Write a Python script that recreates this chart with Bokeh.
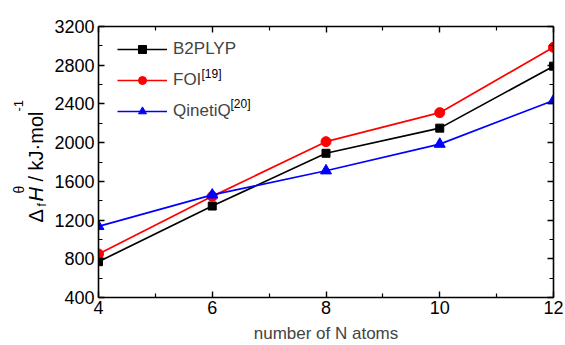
import math
from bokeh.plotting import figure
from bokeh.layouts import row
from bokeh.models import (Range1d, LinearAxis, FixedTicker, Legend, LegendItem, Label)
from bokeh.embed import file_html
from bokeh.resources import INLINE

# ---- data ----
n_atoms = [4, 6, 8, 10, 12]
b2plyp = [770, 1345, 1890, 2150, 2790]
foi = [850, 1445, 2010, 2310, 2985]
qinetiq = [1135, 1460, 1710, 1985, 2435]

x_major = [4, 6, 8, 10, 12]
x_minor = [5, 7, 9, 11]
y_major = [400, 800, 1200, 1600, 2000, 2400, 2800, 3200]
y_minor = [600, 1000, 1400, 1800, 2200, 2600, 3000]

FONT = "Liberation Sans"
H = 345
LAB_W = 48

# ---- narrow panel holding the rotated y-axis title ----
lab = figure(width=LAB_W, height=H, output_backend="svg", toolbar_location=None,
             x_axis_location=None, y_axis_location=None,
             min_border_left=0, min_border_right=0, min_border_top=0, min_border_bottom=0)
lab.xgrid.visible = False
lab.ygrid.visible = False
lab.outline_line_color = None
lab.border_fill_color = "white"
lab.background_fill_color = "white"

ang = math.pi / 2
pieces = [  # text, baseline x, start y (from frame bottom), font size, style
    ("Δ", 35, 75, "20px", "normal"),
    ("f", 41, 91, "12px", "normal"),
    ("H", 35, 96, "20px", "italic"),
    ("θ", 18, 104, "14px", "normal"),
    ("/ kJ·mol", 35, 116, "20px", "normal"),
    ("-1", 18, 186, "13px", "normal"),
]
for txt, sx, sy, fs, st in pieces:
    lab.add_layout(Label(x=sx, y=sy, x_units="screen", y_units="screen", text=txt,
                         angle=ang, text_font=FONT, text_font_size=fs, text_font_style=st,
                         text_color="black", text_align="left", text_baseline="alphabetic"))

# ---- main plot ----
p = figure(width=565 - LAB_W, height=H, output_backend="svg", toolbar_location=None,
           x_range=Range1d(4, 12), y_range=Range1d(400, 3200),
           x_axis_location=None, y_axis_location=None,
           min_border_left=98 - LAB_W, min_border_right=12, min_border_top=26, min_border_bottom=47)
p.xgrid.visible = False
p.ygrid.visible = False
p.outline_line_color = None
p.background_fill_color = "white"
p.border_fill_color = "white"


def style_axis(ax, labels=True):
    ax.axis_line_color = "black"
    ax.axis_line_width = 1.6
    ax.major_tick_line_color = "black"
    ax.major_tick_line_width = 1.4
    ax.minor_tick_line_color = "black"
    ax.minor_tick_line_width = 1.2
    ax.major_tick_in = 6
    ax.major_tick_out = 0
    ax.minor_tick_in = 4
    ax.minor_tick_out = 0
    if labels:
        ax.major_label_text_font = FONT
        ax.major_label_text_font_size = "18px"
        ax.major_label_text_color = "black"
    else:
        ax.major_label_text_font_size = "0px"
        ax.major_label_text_alpha = 0


xb = LinearAxis(ticker=FixedTicker(ticks=x_major, minor_ticks=x_minor))
style_axis(xb)
xb.major_label_standoff = 3
xb.axis_label = "number of N atoms"
xb.axis_label_text_font = FONT
xb.axis_label_text_font_size = "17px"
xb.axis_label_text_font_style = "normal"
xb.axis_label_standoff = 7
p.add_layout(xb, "below")

xt = LinearAxis(ticker=FixedTicker(ticks=x_major, minor_ticks=x_minor))
style_axis(xt, labels=False)
p.add_layout(xt, "above")

yl = LinearAxis(ticker=FixedTicker(ticks=y_major, minor_ticks=y_minor))
style_axis(yl)
yl.major_label_standoff = 4
p.add_layout(yl, "left")

yr = LinearAxis(ticker=FixedTicker(ticks=y_major, minor_ticks=y_minor))
style_axis(yr, labels=False)
p.add_layout(yr, "right")

LW = 1.7
r1l = p.line(n_atoms, b2plyp, line_color="black", line_width=LW)
r1m = p.scatter(n_atoms, b2plyp, marker="square", size=8, fill_color="black", line_color="black")
r2l = p.line(n_atoms, foi, line_color="#ff0000", line_width=LW)
r2m = p.scatter(n_atoms, foi, marker="circle", size=10, fill_color="#ff0000", line_color="#ff0000")
r3l = p.line(n_atoms, qinetiq, line_color="#0000ff", line_width=LW)
r3m = p.scatter(n_atoms, qinetiq, marker="triangle", size=11, fill_color="#0000ff", line_color="#0000ff")

legend = Legend(items=[
    LegendItem(label="B2PLYP", renderers=[r1l, r1m]),
    LegendItem(label="FOI", renderers=[r2l, r2m]),
    LegendItem(label="QinetiQ", renderers=[r3l, r3m]),
], location=(19, 176))
legend.padding = 0
legend.margin = 0
legend.spacing = 11
legend.glyph_width = 50
legend.glyph_height = 20
legend.label_height = 20
legend.label_standoff = 6
legend.label_text_font = FONT
legend.label_text_font_size = "17px"
legend.border_line_color = None
legend.background_fill_alpha = 0
p.add_layout(legend, "center")

# superscript references in legend
for txt, sx, sy in [("[19]", 103, 224), ("[20]", 132, 194)]:
    p.add_layout(Label(x=sx, y=sy, x_units="screen", y_units="screen", text=txt,
                       text_font=FONT, text_font_size="12px", text_color="black",
                       text_align="left", text_baseline="alphabetic"))

layout = row(lab, p)
open("out.html", "w").write(file_html(layout, INLINE))
